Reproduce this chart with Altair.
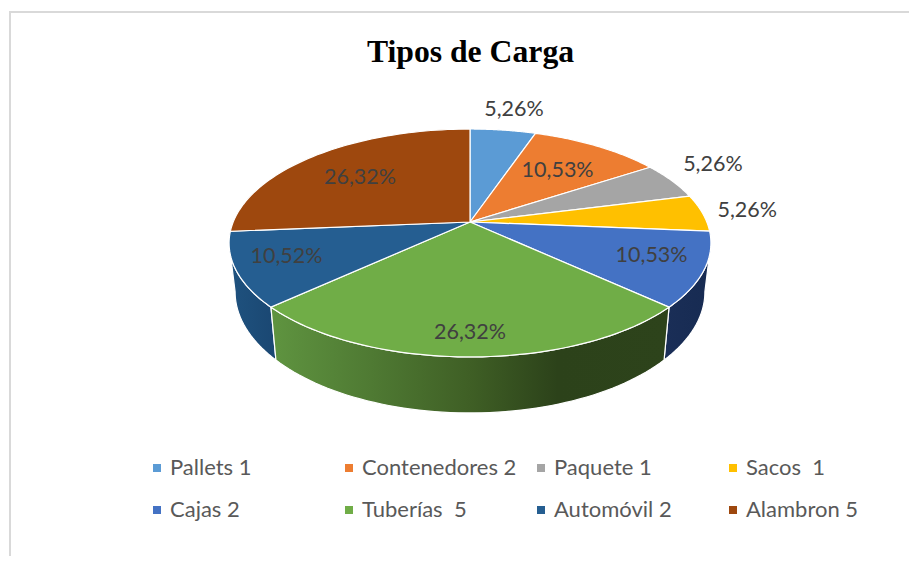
import numpy as np
import pandas as pd
import altair as alt

categories = ["Pallets 1", "Contenedores 2", "Paquete 1", "Sacos\u00a0 1", "Cajas 2", "Tuberías\u00a0 5", "Automóvil 2", "Alambron 5"]
shares = [5.26, 10.53, 5.26, 5.26, 10.53, 26.32, 10.52, 26.32]
labels = ["5,26%", "10,53%", "5,26%", "5,26%", "10,53%", "26,32%", "10,52%", "26,32%"]
colors = ["#5B9BD5", "#ED7D31", "#A5A5A5", "#FFC000", "#4472C4", "#70AD47", "#255E91", "#9E480E"]
label_radius = [1.285, 0.66, 1.277, 1.2, 0.78, 0.845, 0.79, 0.67]
label_shift_deg = [0.8, 0.0, -3.5, -0.6, -2.4, 0.0, 1.7, -1.2]
# Vega fills legend columns top to bottom; this order reads row by row as in the source
legend_order = [0, 4, 1, 5, 2, 6, 3, 7]

# Perspective of the tilted disc
CX, CY, AX, BY, P = 470.0, 222.0, 236.8, 110.1, 0.184
AX_LOW, BY_LOW, CY_LOW = AX * 0.975, 117.0, 269.6


def top(theta, r=1.0):
    u, v = r * np.sin(theta), r * np.cos(theta)
    w = 1 + P * v
    return CX + AX * u / w, CY - BY * v / w


def low(theta):
    u, v = np.sin(theta), np.cos(theta)
    w = 1 + P * v
    return CX + AX_LOW * u / w, CY_LOW - BY_LOW * v / w


cum = np.concatenate([[0], np.cumsum(shares)]) / np.sum(shares) * 2 * np.pi
ext = np.arccos(-P)

rows = []
for i, name in enumerate(categories):
    rows.append({"name": name, "o": 0, "x": CX, "y": CY})
    for k, t in enumerate(np.linspace(cum[i], cum[i + 1], 60)):
        x, y = top(t)
        rows.append({"name": name, "o": k + 1, "x": x, "y": y})
top_df = pd.DataFrame(rows)


def side_df(a, b):
    ts = np.linspace(a, b, 60)
    xa, ya = top(ts)
    xb, yb = low(ts[::-1])
    return pd.DataFrame({"x": np.r_[xa, xb], "y": np.r_[ya, yb], "o": np.arange(120)})


xs = alt.X("x:Q", scale=alt.Scale(domain=[8, 909], nice=False, zero=False), axis=None)
ys = alt.Y("y:Q", scale=alt.Scale(domain=[556, 8], nice=False, zero=False), axis=None)


def grad(stops):
    return {"gradient": "linear", "x1": 0, "x2": 1, "y1": 0, "y2": 0,
            "stops": [{"offset": o, "color": c} for o, c in stops]}


def side(a, b, stops):
    return alt.Chart(side_df(a, b)).mark_line(
        interpolate="linear-closed", fill=grad(stops), stroke="white", strokeWidth=1.2
    ).encode(x=xs, y=ys, order="o:Q")


side_cajas = side(ext, cum[5], [(0, "#1a2e57"), (1, "#172b52")])
side_tub = side(cum[5], cum[6], [(0, "#5f9440"), (0.25, "#4f7a33"), (0.5, "#3f5f25"), (0.72, "#2c421a"), (1, "#2d431b")])
side_auto = side(cum[6], 2 * np.pi - ext, [(0, "#1f527f"), (1, "#1a4772")])

faces = alt.Chart(top_df).mark_line(
    interpolate="linear-closed", stroke="white", strokeWidth=1.2
).encode(
    x=xs, y=ys, order="o:Q",
    fill=alt.Fill(
        "name:N",
        scale=alt.Scale(domain=[categories[i] for i in legend_order],
                        range=[colors[i] for i in legend_order]),
        sort=None,
        legend=alt.Legend(
            title=None, orient="none", legendX=138, legendY=449, columns=4,
            gridAlign="all", columnPadding=13, rowPadding=20,
            symbolType="square", symbolSize=64, symbolStrokeWidth=0,
            labelFont="Lato", labelFontSize=22, labelColor="#595959",
            labelOffset=2, labelLimit=300, symbolOpacity=1,
        ),
    ),
)

mid = (cum[:-1] + cum[1:]) / 2 + np.radians(label_shift_deg)
lx, ly = top(mid, np.array(label_radius))
label_df = pd.DataFrame({"label": labels, "x": lx, "y": ly})
label_layer = alt.Chart(label_df).mark_text(
    font="Lato", fontSize=21.5, color="#404040", align="center", baseline="middle", dy=1
).encode(x=xs, y=ys, text="label:N")

frame_left = alt.Chart(label_df.head(1)).mark_rule(color="#d9d9d9", strokeWidth=2).encode(
    x=alt.value(2), y=alt.value(4), y2=alt.value(548))
frame_top = alt.Chart(label_df.head(1)).mark_rule(color="#d9d9d9", strokeWidth=2).encode(
    y=alt.value(4), x=alt.value(1), x2=alt.value(901))

chart = alt.layer(frame_left, frame_top, side_auto, side_cajas, side_tub, faces, label_layer).properties(
    width=901, height=548, padding=0,
    autosize=alt.AutoSizeParams(type="none"),
    background="white",
    title=alt.TitleParams("Tipos de Carga", font="Liberation Serif", fontSize=31.7, fontWeight="bold",
                          color="black", anchor="middle", frame="group", dx=12, dy=61, offset=0),
).configure_view(stroke=None).resolve_scale(x="shared", y="shared")

chart.save("out.html", embed_options={"renderer": "svg", "actions": False})
